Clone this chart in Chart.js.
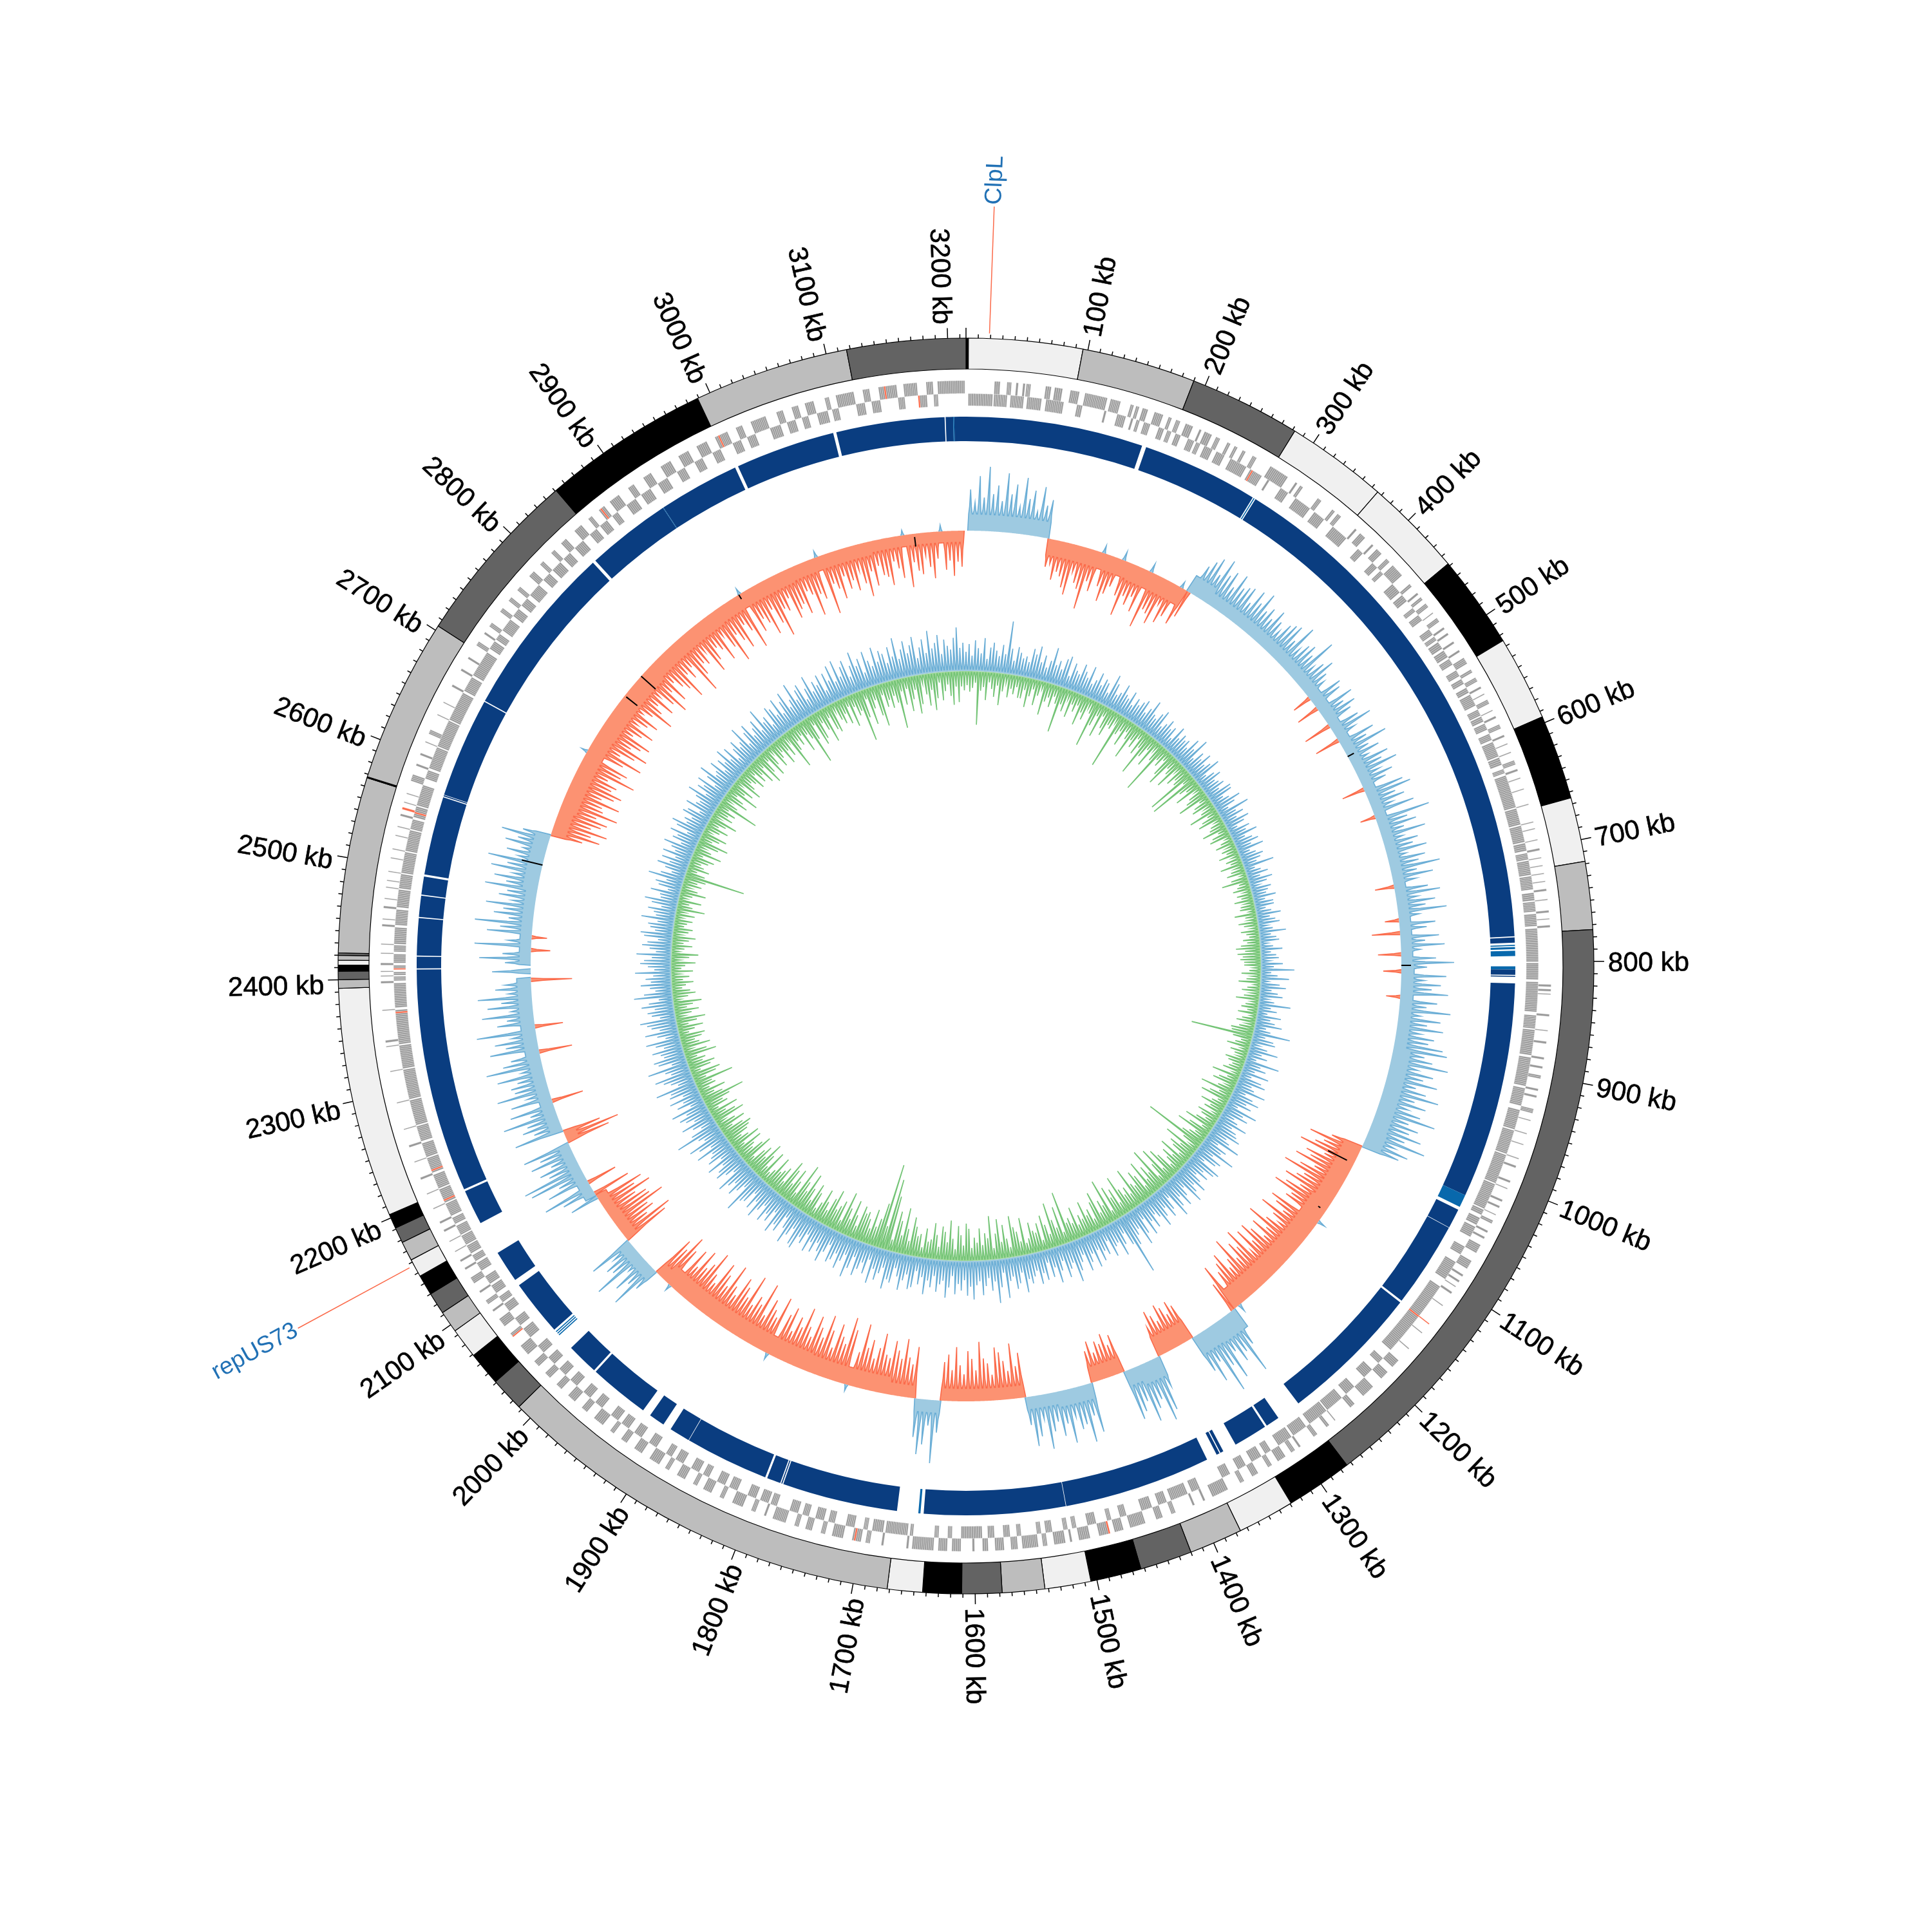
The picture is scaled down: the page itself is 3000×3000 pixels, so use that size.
<!DOCTYPE html>
<html>
<head>
<meta charset="utf-8">
<script src="https://cdn.jsdelivr.net/npm/chart.js@4"></script>
<style>
body { margin: 0; background: #fff; }
canvas { position: absolute; left: 0; top: 0; }
</style>
</head>
<body>
<canvas id="rings" width="3000" height="3000"></canvas>
<canvas id="tracks" width="3000" height="3000"></canvas>
<script>
// genome position in kb, spikes read every 5 kb
var genomeKb = 3215;
var binKb = 5;
var tickKb = [100,200,300,400,500,600,700,800,900,1000,1100,1200,1300,1400,1500,1600,1700,1800,1900,2000,2100,2200,2300,2400,2500,2600,2700,2800,2900,3000,3100,3200];
var tickLabels = tickKb.map(function (k) { return k + ' kb'; });
var markerNames = ['ClpL', 'repUS73'];
var markerKb = [19, 2157];

// outer band: where each block ends and its shade
var blockEnds = [2,96,190,282,366,448,525,595,665,718,774,1274,1329,1376,1420,1463,1505,1543,1578,1611,1643,1672,2013,2041,2069,2094,2112,2130,2147,2162,2178,2191,2203,2393,2400,2407,2412,2416,2420,2422,2567,2568,2704,2851,2989,3117,3215];
var blockShades = ['k','w','g','d','w','w','k','w','k','w','g','d','k','w','g','d','k','w','g','d','k','w','g','d','k','w','g','d','k','w','g','d','k','w','g','d','k','w','g','d','g','k','g','d','k','g','d'];

// genes on each strand, start,end pairs in kb
var forwardGenes = [25,30,36,40,44,46,50,52,53,57,70,75,78,85,92,100,105,125,128,137,146,149,151,154,157,162,168,176,181,184,188,192,197,204,210,212,215,222,226,230,237,240,244,247,252,255,262,266,280,298,306,308,311,314,330,334,346,349,352,356,372,374,378,384,392,394,398,404,410,414,418,430,440,443,450,452,455,458,462,466,472,473,478,482,488,490,494,496,503,505,512,514,520,526,532,535,540,544,549,551,556,557,562,566,572,573,578,580,586,590,596,598,604,605,612,613,620,624,628,630,636,637,646,647,660,661,676,677,682,683,692,693,700,702,708,709,715,716,722,723,729,730,736,738,745,746,755,757,762,763,768,770,820,822,824,826,828,829,846,848,860,861,870,872,884,886,892,894,900,903,912,914,918,920,930,934,940,941,952,953,962,963,975,976,982,984,996,998,1003,1004,1014,1016,1020,1022,1028,1029,1034,1037,1044,1046,1050,1052,1058,1066,1074,1082,1088,1090,1094,1096,1100,1101,1106,1108,1120,1121,1140,1141,1150,1151,1168,1169,1182,1190,1196,1204,1214,1226,1236,1241,1258,1259,1265,1268,1278,1282,1296,1298,1302,1306,1312,1320,1326,1330,1340,1346,1354,1358,1370,1385,1392,1394,1402,1404,1420,1424,1432,1438,1448,1462,1468,1476,1480,1490,1498,1508,1514,1516,1520,1530,1536,1540,1544,1558,1562,1568,1574,1582,1588,1593,1600,1602,1612,1620,1624,1632,1636,1655,1658,1660,1680,1682,1692,1696,1700,1708,1716,1726,1732,1736,1744,1750,1756,1760,1768,1780,1786,1788,1796,1800,1808,1818,1826,1830,1838,1846,1852,1856,1864,1872,1880,1884,1890,1900,1908,1916,1924,1930,1938,1942,1950,1960,1968,1974,1982,1990,1998,2004,2012,2018,2026,2032,2040,2050,2060,2064,2072,2080,2088,2090,2096,2100,2108,2110,2118,2124,2132,2134,2140,2142,2150,2151,2160,2161,2170,2172,2178,2180,2192,2193,2206,2207,2220,2222,2236,2237,2250,2252,2266,2267,2290,2291,2318,2319,2340,2341,2344,2346,2372,2373,2396,2398,2402,2403,2406,2407,2412,2414,2422,2423,2430,2431,2446,2448,2452,2453,2462,2464,2470,2471,2480,2481,2486,2487,2494,2495,2506,2507,2514,2515,2526,2527,2534,2535,2544,2546,2550,2552,2556,2557,2564,2565,2576,2582,2590,2592,2600,2602,2612,2613,2620,2624,2638,2639,2650,2651,2666,2668,2682,2684,2694,2696,2708,2712,2720,2722,2728,2732,2744,2748,2756,2760,2768,2772,2784,2790,2798,2802,2812,2816,2824,2830,2840,2848,2856,2860,2868,2874,2880,2890,2900,2906,2916,2924,2934,2944,2952,2962,2970,2980,2988,3000,3008,3014,3022,3036,3046,3052,3060,3066,3072,3080,3090,3094,3100,3116,3124,3130,3138,3154,3160,3172,3180,3186,3190,3214];
var reverseGenes = [2,24,25,37,40,52,55,68,72,88,100,105,125,127,137,145,150,152,155,158,162,168,176,181,184,188,192,197,204,210,212,216,220,228,232,240,246,262,266,278,284,286,298,306,314,330,335,346,356,372,386,392,404,410,414,418,430,440,443,450,458,462,466,472,482,488,490,494,496,503,505,512,514,520,526,532,535,540,544,549,551,562,566,572,573,578,580,586,590,596,598,612,613,620,624,628,630,660,661,676,677,692,693,700,702,708,709,722,723,735,738,745,746,755,757,768,770,800,801,816,818,845,848,860,861,884,886,912,914,930,934,952,953,975,976,1003,1004,1028,1029,1034,1037,1044,1046,1056,1066,1074,1082,1100,1108,1180,1190,1196,1204,1214,1226,1236,1241,1258,1259,1278,1282,1296,1298,1312,1320,1326,1330,1340,1346,1354,1362,1370,1392,1400,1404,1420,1424,1432,1438,1448,1462,1468,1476,1480,1490,1498,1508,1512,1516,1520,1530,1536,1540,1544,1558,1562,1568,1574,1582,1588,1593,1612,1620,1624,1632,1636,1655,1658,1660,1680,1682,1692,1696,1700,1708,1716,1726,1732,1736,1744,1750,1756,1760,1768,1780,1786,1788,1796,1800,1808,1818,1826,1830,1838,1846,1852,1856,1864,1872,1880,1884,1890,1900,1908,1916,1924,1930,1938,1942,1950,1960,1968,1974,1982,1990,1998,2004,2012,2018,2026,2032,2040,2050,2060,2064,2072,2080,2088,2090,2096,2100,2108,2110,2118,2124,2132,2134,2140,2142,2150,2151,2160,2161,2170,2172,2178,2180,2192,2193,2206,2207,2220,2222,2236,2237,2250,2252,2266,2267,2290,2291,2318,2319,2340,2341,2372,2374,2396,2398,2402,2403,2406,2408,2412,2414,2422,2424,2430,2431,2446,2448,2462,2464,2480,2481,2494,2495,2514,2515,2534,2535,2544,2546,2556,2557,2576,2582,2590,2592,2612,2613,2638,2639,2666,2668,2682,2684,2708,2712,2720,2722,2728,2732,2744,2748,2756,2760,2768,2772,2784,2790,2798,2802,2812,2816,2824,2830,2840,2848,2856,2860,2868,2874,2880,2890,2900,2906,2916,2924,2934,2944,2952,2962,2970,2980,2988,3000,3008,3014,3022,3036,3046,3052,3060,3066,3072,3080,3090,3094,3100,3116,3124,3130,3138,3154,3160,3172,3180,3186,3190];
var redGeneKb = [268,395,1140,1480,1705,2060,2195,2225,2370,2408,2550,2870,2992,3144,3173];

// contig band: where each piece ends, n navy, l lighter blue, _ gap
var contigEnds = [167,171,281,282,283,284,776,777,782,784,785,786,788,789.5,794.5,804,807,812,813,814,820,1024,1036,1039,1057.5,1058,1139,1141,1275,1298,1311,1313,1345,1358,1361,1362,1365,1375,1513.5,1514,1647,1650,1652,1672,1781,1782,1783,1784,1797,1799,1878,1878.5,1898,1906,1921,1929,1986,1988,2018,2034,2035,2036,2037,2038,2039,2041,2094,2100,2130,2162,2195,2197,2408,2409,2420,2421,2456,2457,2477,2478,2495,2497,2571,2572,2573,2573.5,2668,2669,2833,2836,2916,2916.5,2993,2996,3090,3093,3195,3196,3203,3204,3215];
var contigKinds = ['n','_','n','_','l','_','n','_','n','_','l','_','l','_','l','_','l','n','_','n','_','n','l','_','n','_','n','_','n','_','n','_','n','_','n','_','n','_','n','_','n','_','l','_','n','_','n','_','n','_','n','_','n','_','n','_','n','_','n','_','l','_','l','_','l','_','n','_','n','_','n','_','n','_','n','_','n','_','n','_','n','_','n','_','n','_','n','_','n','_','n','l','n','_','n','_','n','_','n','l','n'];

// GC skew spikes, one row per 100 kb, above zero outward and below zero inward
var gcSkew = [
0,64,44,85,52,100,58,72,48,92,60,76,42,88,56,70,38,78,50,60,
-44,-38,-62,-48,-54,-70,-80,-42,-58,-66,-96,-50,-64,12,-52,-74,-60,-46,14,-56,
-86,-52,-64,-48,-70,14,-90,-58,-62,-76,-40,-68,-54,10,-60,-44,50,62,72,48,
78,56,66,44,70,52,58,62,40,66,50,72,46,56,42,62,48,36,54,60,
64,42,74,38,52,58,46,80,36,50,62,44,34,-30,54,48,-36,60,40,56,
44,-44,48,66,34,-40,58,42,72,38,52,30,60,46,68,36,54,40,-36,62,
72,44,56,34,66,-24,86,48,60,38,70,32,54,44,64,30,58,46,78,40,
64,36,-30,52,70,34,60,44,76,32,-22,56,42,-44,60,38,68,30,-36,54,
82,40,-28,70,36,62,48,74,-22,58,42,80,34,66,46,72,38,60,52,76,
84,50,64,90,44,70,56,80,48,66,88,52,72,46,68,94,54,72,60,82,
58,94,48,72,60,-50,-84,-58,-70,-92,-48,-76,-66,-88,-52,-74,-98,-60,-70,-86,
-56,-78,-94,-60,-66,12,-84,-72,-54,-90,-64,-48,-68,-96,-58,-80,-52,-74,-88,-60,
-86,-50,-96,-70,-82,-58,-98,-66,-54,-84,-72,-60,12,-78,-50,60,104,64,76,54,
96,70,110,54,84,62,-60,-70,-52,-66,-74,-50,-62,-72,-48,50,86,100,62,74,
92,56,70,80,-62,-48,-68,-54,-60,-44,-64,-50,78,50,90,60,66,44,84,52,
70,46,60,86,38,64,78,44,-70,-50,-86,-44,-60,-74,-82,-40,-58,-66,-92,-48,
-66,-78,-42,-56,-84,-48,-72,-60,50,98,40,70,86,60,-80,-52,-62,-90,-58,-70,
-84,-56,-60,-92,-68,-50,-78,-64,-100,-54,10,-86,-104,-60,-70,-88,-48,-74,-96,-58,
-72,-88,-52,-66,-94,-60,-74,-48,-84,-70,10,-92,-56,-66,-80,-50,-100,-62,-72,-54,
-100,-60,-74,-86,-52,-64,-96,-56,-72,-88,-48,-60,-94,-70,-58,-84,-50,-76,10,-66,
-86,-58,-70,40,78,44,62,30,86,50,56,36,72,-76,-88,-50,-66,-60,-92,-72,
-70,-54,-84,-60,-76,46,-60,52,80,-48,66,44,88,96,50,62,40,70,52,76,
-70,-88,-60,78,44,60,50,86,40,70,-50,64,36,82,52,56,44,74,34,88,
60,46,-52,76,50,66,38,92,-44,58,42,80,34,70,48,84,36,56,40,-64,
0,60,0,40,80,44,-30,88,36,-24,70,50,90,38,62,48,76,36,58,46,
82,50,70,42,78,54,86,40,60,36,66,48,76,44,-50,-76,-60,-84,-56,-70,
-78,-58,-90,-64,-60,-86,-54,-72,-82,-62,-68,-50,-92,-66,-74,10,-60,-88,-48,-70,
-88,-56,-70,-82,-48,-60,-76,-44,-58,-72,-40,-54,-86,-62,-50,-74,-44,-66,-86,-52,
-74,-44,-58,-68,-88,-50,-62,-46,-96,-70,-54,-60,-42,-82,-66,-48,-56,-78,-40,-64,
-92,-50,-64,-80,-44,-58,-90,10,-70,-52,-62,-84,-46,-72,-96,-54,-60,-42,-78,-66,
-60,-78,-44,-52,-88,-56,-66,10,-94,-48,-58,-76,-42,-64,-52,-70,-40,-62,-84,-46,
-70,-40,-56,-60,-74,-38,-50,-66,8,-82,-44,-58,-64,-36,-54,-72,-42,10,-60,-46,
-70,-48,-56];

// solid part of the skew ring under the spikes, one value per 100 kb
var skewFloor = [26,26,28,20,20,18,18,18,20,28,30,34,34,32,25,20,20,28,30,30,20,18,20,22,18,24,28,30,26,24,22,18,18];

// inner ring, outward spikes
var depthAbove = [
30,42,24,48,36,28,52,20,38,46,34,26,44,30,82,40,22,44,36,28,
32,24,46,38,52,28,40,22,34,56,30,38,26,44,50,20,42,32,28,46,
36,28,48,22,30,44,26,38,34,20,52,40,24,30,46,32,28,42,22,36,
28,36,42,24,34,50,30,26,38,46,22,30,40,28,34,18,42,26,36,30,
34,24,44,30,52,20,36,28,42,26,34,46,18,30,38,24,28,34,22,40,
38,20,28,44,32,18,50,26,36,22,40,30,16,34,26,42,20,30,38,24,
42,18,26,36,30,22,48,16,24,34,20,38,28,14,32,26,22,36,18,30,
30,16,24,38,20,28,34,14,22,42,18,26,30,12,20,34,16,24,28,14,
34,20,52,16,26,44,12,30,40,18,28,36,14,24,50,20,30,16,38,22,
30,42,18,26,58,20,34,38,14,28,46,22,32,16,54,26,36,20,44,18,
36,44,24,30,50,20,34,46,28,38,18,52,32,42,22,30,48,26,36,40,
48,28,36,56,22,40,34,60,26,44,38,20,52,46,30,42,24,36,50,32,
42,56,24,36,50,30,44,58,20,38,48,28,40,54,34,26,46,32,52,22,
44,60,30,38,52,97,46,24,40,56,32,36,50,22,42,34,48,28,54,30,
42,54,26,36,48,64,32,40,52,24,38,56,30,44,20,46,34,50,28,36,
46,38,58,26,42,50,30,36,62,22,44,68,34,48,28,40,54,32,38,60,
40,54,30,46,36,52,24,42,58,32,38,50,26,44,34,56,30,42,22,48,
52,30,40,56,36,24,48,44,60,28,38,50,34,58,22,46,30,42,54,26,
46,62,28,40,54,32,44,50,24,38,56,42,30,48,34,52,26,44,36,58,
54,30,44,60,38,22,50,42,58,26,46,36,52,28,40,56,32,48,24,44,
48,69,28,40,52,34,44,58,24,36,50,42,30,54,26,46,38,32,56,28,
46,60,30,38,72,44,24,36,52,28,40,48,34,56,22,42,30,50,26,46,
42,64,26,36,46,58,30,38,64,24,44,50,32,36,48,28,40,54,22,34,
52,28,40,46,56,24,36,42,30,50,38,22,60,44,26,34,48,32,40,28,
56,26,36,48,42,30,54,24,34,46,38,22,44,50,28,36,40,26,52,30,
34,44,24,40,52,28,30,46,20,36,42,26,56,38,22,34,48,30,44,24,
46,28,36,50,24,40,34,48,22,42,52,30,36,26,44,38,20,46,32,28,
38,54,26,44,36,50,22,40,56,30,34,48,24,42,32,52,28,46,20,36,
46,30,36,58,24,42,52,28,38,48,26,60,34,40,22,50,44,30,54,26,
44,56,28,38,62,32,46,52,24,40,58,30,44,36,50,22,48,34,56,28,
60,32,46,54,26,42,62,38,48,24,56,40,30,58,34,50,44,28,52,36,
64,30,44,56,36,48,60,26,42,54,32,66,38,46,58,28,50,40,34,52,
68,36,44];

// inner ring, inward spikes
var depthBelow = [
22,32,26,18,83,30,24,44,16,26,38,20,50,28,14,36,22,30,18,34,
34,20,46,28,16,40,24,12,52,30,22,36,18,28,72,26,36,14,42,20,
30,18,48,26,36,14,22,74,38,20,52,16,34,44,24,28,14,89,30,22,
44,18,28,58,24,34,16,40,26,70,36,20,46,14,30,84,22,30,16,40,
54,20,28,48,14,36,24,30,78,18,80,32,22,44,12,26,34,50,16,28,
34,14,24,46,18,30,38,12,22,26,40,16,28,34,10,20,30,14,24,18,
32,12,24,18,36,14,22,30,10,26,42,16,20,28,12,24,18,30,14,22,
24,10,34,18,14,30,22,12,28,20,16,26,20,30,38,24,36,28,32,26,
26,12,18,30,14,22,34,10,20,28,14,24,36,12,20,26,16,30,10,22,
30,14,24,36,34,97,30,16,24,36,12,28,20,14,32,26,18,22,30,12,
44,18,30,38,14,26,52,20,34,46,16,24,40,22,30,12,36,28,18,32,
48,16,36,54,20,28,38,98,30,14,56,26,42,34,18,50,24,40,28,16,
40,52,20,60,36,16,68,30,44,24,58,18,40,50,28,34,62,22,36,26,
38,62,20,46,34,54,16,70,30,40,22,58,44,18,36,28,52,26,34,20,
50,26,36,30,81,18,60,28,42,70,22,38,54,16,44,30,34,48,24,18,
58,22,38,46,64,16,30,52,26,62,40,18,68,34,42,24,50,28,36,20,
50,58,24,40,54,18,34,62,28,44,52,20,38,56,30,26,46,16,36,32,
46,60,22,40,72,28,50,64,18,86,112,36,134,70,44,30,56,24,38,48,
44,54,20,36,58,26,42,66,18,48,38,30,60,44,22,34,52,28,16,40,
52,22,40,62,30,44,70,18,36,54,26,48,60,20,42,34,28,50,24,16,
50,20,38,56,28,44,34,16,52,40,24,30,46,18,48,32,22,36,42,48,
36,20,44,30,14,50,38,24,46,16,34,28,42,67,34,22,42,18,30,26,
62,20,38,46,16,34,42,24,30,18,50,36,14,44,28,22,34,40,16,26,
40,18,32,46,14,26,38,20,30,44,12,24,36,28,16,22,34,18,28,14,
34,16,22,38,14,28,42,12,20,32,18,26,36,14,24,30,16,20,28,12,
30,14,44,24,18,36,12,20,40,26,14,30,22,34,95,30,16,34,24,18,
28,36,16,44,26,14,34,48,20,30,40,12,24,36,18,28,44,14,32,22,
32,18,65,28,14,40,30,16,50,24,36,12,44,30,20,26,38,16,34,24,
42,18,50,34,16,46,30,12,40,28,20,44,24,36,14,63,36,22,32,18,
48,22,32,76,38,16,52,44,20,34,56,18,40,46,14,30,38,24,42,16,
50,20,36,30,80,44,16,58,34,22,48,66,18,38,28,42,24,36,77,20,
42,18,54,36,22,60,46,14,32,50,26,58,40,16,44,30,20,38,52,24,
48,24,30];

// short black marks on the skew ring: kb, from, to (relative to its baseline)
var inkKb = [547,803,1045,1110,2531,2754,2784,2934,3154];
var inkFrom = [0,0,-12,-10,0,-3,0,0,-5];
var inkTo = [11,15,-45,-14,33,-25,-30,-8,-20];

var shadeColor = { k: '#000000', w: '#f0f0f0', g: '#bdbdbd', d: '#636363' };
var contigColor = { n: '#0a3d80', l: '#0868ac', _: 'rgba(0,0,0,0)' };
var geneColor = '#9a9a9a';
var redColor = '#fb6a4a';
var blank = 'rgba(0,0,0,0)';

// radii on the 3000 px canvas
var outerR = 975, contigInnerR = 815;
var skewBase = 676, depthBase = 458;
var labelR = 997, markerR = 1180;
var aboveFloor = 3, belowFloor = 2;
var shoulder = 0.3;

function lengthsFromEnds(ends) {
  var prev = 0;
  return ends.map(function (e) { var d = e - prev; prev = e; return d; });
}

// gaps stay one slice, each gene run is cut in short stripes
function geneSlices(pairs) {
  var lengths = [], colors = [], prev = 0;
  for (var i = 0; i < pairs.length; i += 2) {
    var s = pairs[i], e = pairs[i + 1];
    lengths.push(s - prev); colors.push(blank);
    var n = Math.max(1, Math.round((e - s) / 1.6));
    for (var j = 0; j < n; j++) {
      var a = s + (e - s) * j / n, b = s + (e - s) * (j + 1) / n;
      var red = redGeneKb.some(function (k) { return k >= a && k < b; });
      lengths.push(b - a); colors.push(red ? redColor : geneColor);
    }
    prev = e;
  }
  lengths.push(genomeKb - prev); colors.push(blank);
  return { lengths: lengths, colors: colors };
}

function spacer(w) {
  return { data: [genomeKb], backgroundColor: [blank], borderWidth: 0, weight: w };
}

var forwardRing = geneSlices(forwardGenes);
var reverseRing = geneSlices(reverseGenes);
var stripe = 'rgba(255,255,255,0.45)';

new Chart(document.getElementById('rings'), {
  type: 'doughnut',
  data: {
    datasets: [
      { data: lengthsFromEnds(blockEnds), backgroundColor: blockShades.map(function (s) { return shadeColor[s]; }), borderColor: '#000', borderWidth: 1.2, weight: 48 },
      spacer(18),
      { data: forwardRing.lengths, backgroundColor: forwardRing.colors, borderColor: stripe, borderWidth: 0.7, weight: 20 },
      { data: reverseRing.lengths, backgroundColor: reverseRing.colors, borderColor: stripe, borderWidth: 0.7, weight: 19 },
      spacer(17),
      { data: lengthsFromEnds(contigEnds), backgroundColor: contigKinds.map(function (k) { return contigColor[k]; }), borderWidth: 0, weight: 38 }
    ]
  },
  options: {
    responsive: false,
    animation: false,
    devicePixelRatio: 1,
    radius: outerR,
    cutout: (contigInnerR / outerR * 100) + '%',
    plugins: { legend: { display: false }, tooltip: { enabled: false } }
  }
});

var positions = [];
for (var kb = 0; kb < genomeKb; kb++) positions.push(kb);

function signOf(v) { return v > 0 ? 1 : v < 0 ? -1 : 0; }

// which side the solid ring is on around a spike, from the spikes next to it
function skewSide(b) {
  var n = gcSkew.length;
  if (!gcSkew[b]) return 0;
  var sum = 0;
  for (var d = -2; d <= 2; d++) sum += signOf(gcSkew[(b + d + n) % n]);
  return signOf(sum);
}

// bin whose spike a position belongs to, spikes sit on every 5th kb
function binOf(k) {
  var n = gcSkew.length;
  var phase = ((k % binKb) + binKb) % binKb;
  var b = Math.floor(k / binKb) + (phase > 2 ? 1 : 0);
  return (b + n) % n;
}

function phaseOf(k) { return ((k % binKb) + binKb) % binKb; }

// spike outline at one position: tip, shoulder, or the floor level
function outline(phase, value, floor) {
  if (value > 0 && phase === 0) return value;
  if (value > 0 && (phase === 1 || phase === 4)) return floor + (Math.max(value, floor) - floor) * shoulder;
  return floor;
}

// one side of the skew ring, closing every run back on the baseline
function skewPart(sign) {
  var part = positions.map(function (kb) {
    var b = binOf(kb), v = gcSkew[b] * sign, phase = phaseOf(kb);
    var onSide = skewSide(b) === sign;
    var floor = onSide ? skewFloor[Math.floor(kb / 100)] : 0;
    if (!onSide && !(v > 0 && phase !== 2 && phase !== 3)) return null;
    return outline(phase, v, floor);
  });
  var n = part.length;
  return part.map(function (v, i) {
    if (v !== null) return skewBase + sign * v;
    return part[(i + 1) % n] !== null || part[(i - 1 + n) % n] !== null ? skewBase : null;
  });
}

function depthPart(values, sign, floor, shift) {
  return positions.map(function (kb) {
    var k = kb - shift;
    return depthBase + sign * outline(phaseOf(k), values[binOf(k)], floor);
  });
}

function spikes(values, line, fill, base, shift) {
  return {
    data: values, borderColor: line, backgroundColor: fill, borderWidth: 1.6,
    pointRadius: 0, tension: 0, spanGaps: false, fill: { value: base },
    segment: {
      borderColor: function (c) {
        var a = phaseOf(c.p0DataIndex - shift), b = phaseOf(c.p1DataIndex - shift);
        return (a === 2 || a === 3) && (b === 2 || b === 3) ? fill : line;
      }
    }
  };
}

// kb ticks, tick labels, the two named markers and the short black marks
var ruler = {
  id: 'ruler',
  afterDatasetsDraw: function (chart) {
    var ctx = chart.ctx, scale = chart.scales.r;
    ctx.save();
    ctx.strokeStyle = '#000';
    ctx.lineWidth = 1.5;
    for (var i = 0; i < positions.length; i += 10) {
      segmentAt(ctx, scale, i, outerR, outerR + (i % 100 === 0 ? 16 : 6));
    }
    ctx.lineWidth = 2;
    inkKb.forEach(function (k, j) {
      segmentAt(ctx, scale, k, skewBase + inkFrom[j], skewBase + inkTo[j]);
    });
    ctx.fillStyle = '#000';
    ctx.font = '42px "Liberation Sans"';
    ctx.textBaseline = 'middle';
    ctx.lineWidth = 0.6;
    tickKb.forEach(function (k, j) {
      placeText(ctx, scale, k, labelR, tickLabels[j], k < genomeKb / 2 ? 4 : 10, true);
    });
    ctx.font = '37px "Liberation Sans"';
    ctx.lineWidth = 1.5;
    markerKb.forEach(function (k, j) {
      ctx.strokeStyle = redColor;
      segmentAt(ctx, scale, k, outerR + 8, markerR);
      ctx.fillStyle = '#2171b5';
      placeText(ctx, scale, k, markerR + 3, markerNames[j], 0, false);
    });
    ctx.restore();
  }
};

function segmentAt(ctx, scale, index, r0, r1) {
  var a = scale.getPointPosition(index, r0);
  var b = scale.getPointPosition(index, r1);
  ctx.beginPath(); ctx.moveTo(a.x, a.y); ctx.lineTo(b.x, b.y); ctx.stroke();
}

function placeText(ctx, scale, index, r, text, drop, heavy) {
  var p = scale.getPointPosition(index, r);
  var right = index < genomeKb / 2;
  ctx.save();
  ctx.translate(p.x, p.y);
  ctx.rotate(right ? p.angle : p.angle + Math.PI);
  ctx.textAlign = right ? 'left' : 'right';
  ctx.fillText(text, 0, drop);
  if (heavy) ctx.strokeText(text, 0, drop);
  ctx.restore();
}

new Chart(document.getElementById('tracks'), {
  type: 'radar',
  data: {
    labels: positions,
    datasets: [
      spikes(skewPart(1), '#6baed6', '#9ecae1', skewBase, 0),
      spikes(skewPart(-1), redColor, '#fc9272', skewBase, 0),
      spikes(depthPart(depthBelow, -1, belowFloor, 2), '#74c476', '#a1d99b', depthBase, 2),
      spikes(depthPart(depthAbove, 1, aboveFloor, 0), '#6baed6', '#9ecae1', depthBase, 0)
    ]
  },
  options: {
    responsive: false,
    animation: false,
    devicePixelRatio: 1,
    layout: { padding: 0 },
    scales: {
      r: {
        min: 0, max: 1500,
        grid: { display: false },
        angleLines: { display: false },
        ticks: { display: false },
        pointLabels: { display: false }
      }
    },
    plugins: { legend: { display: false }, tooltip: { enabled: false } }
  },
  plugins: [ruler]
});
</script>
</body>
</html>
